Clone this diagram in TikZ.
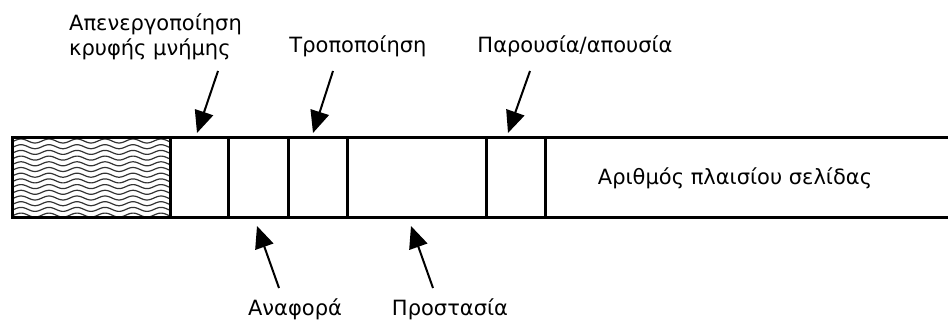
\documentclass[tikz,border=0pt]{standalone}
\usepackage{fontspec}
\setmainfont{DejaVu Sans}
\usetikzlibrary{arrows.meta}

\tikzset{
  lbl/.style={inner sep=0pt, font=\fontsize{21}{25}\selectfont},
  ptr/.style={line width=2pt, -{Triangle[length=22pt,width=19pt]}},
  field/.style={line width=3pt}
}

\begin{document}
\begin{tikzpicture}[x=1pt,y=-1pt]
  \useasboundingbox (0,0) rectangle (948,320);

  % wavy part on the left (period 28)
  \begin{scope}
    \clip (12,138) rectangle (170,218);
    \foreach \w in {141,146.7,...,222}
      \draw[line width=1.2pt, black!80] plot[domain=8:176, samples=100, smooth]
        (\x,{\w+2*sin(\x*12.857)});
  \end{scope}

  % the entry with its fields
  \draw[field] (948,138) -- (12,138) -- (12,218) -- (948,218);
  \foreach \f in {170,228,288,347,486,545}
    \draw[field] (\f,138) -- (\f,218);

  % labels
  \node[lbl, anchor=west, align=left] (cache) at (69,37)
    {Απενεργοποίηση\\κρυφής μνήμης};
  \node[lbl, anchor=base] (modif) at (358,53) {Τροποποίηση};
  \node[lbl, anchor=base] (pres) at (575,53) {Παρουσία/απουσία};
  \node[lbl, anchor=base] (ref) at (295,316) {Αναφορά};
  \node[lbl, anchor=base] (prot) at (450,316) {Προστασία};
  \node[lbl, anchor=base] (frame) at (735,185) {Αριθμός πλαισίου σελίδας};

  % arrows
  \coordinate (c1) at (218,71);  \coordinate (c2) at (197,133);
  \coordinate (m1) at (333,71);  \coordinate (m2) at (313,133);
  \coordinate (p1) at (530,71);  \coordinate (p2) at (508,133);
  \coordinate (r1) at (279,288); \coordinate (r2) at (257,226);
  \coordinate (s1) at (433,288); \coordinate (s2) at (411,226);
  \draw[ptr] (c1) -- (c2);
  \draw[ptr] (m1) -- (m2);
  \draw[ptr] (p1) -- (p2);
  \draw[ptr] (r1) -- (r2);
  \draw[ptr] (s1) -- (s2);
\end{tikzpicture}
\end{document}
